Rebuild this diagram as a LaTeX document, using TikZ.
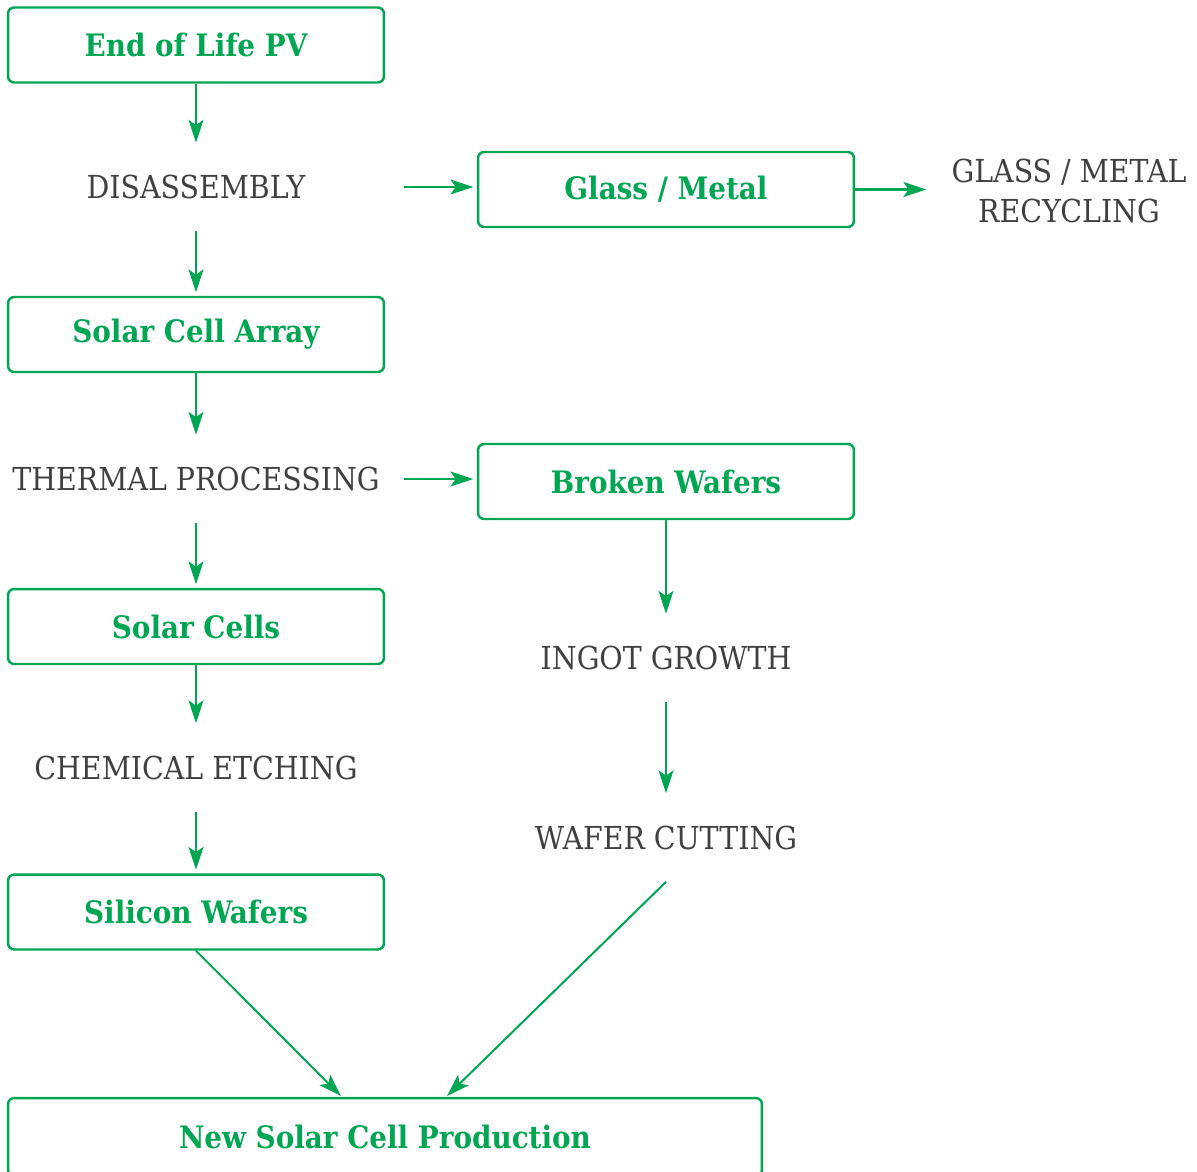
\documentclass[tikz,border=0pt]{standalone}
\usepackage{fontspec}
\setmainfont{DejaVu Serif Condensed}
\usetikzlibrary{arrows.meta, positioning}
\definecolor{pvgreen}{HTML}{00A651}
\definecolor{pvgray}{HTML}{404040}

\begin{document}
\begin{tikzpicture}[
  x=0.02cm, y=-0.02cm,
  stage/.style={rectangle, draw=pvgreen, line width=1.4pt, rounded corners=3.5pt, minimum width=7.52cm, minimum height=1.5cm, font=\fontsize{17.6}{21}\selectfont\bfseries, text=pvgreen, align=center},
  process/.style={font=\fontsize{18}{22.7}\selectfont, text=pvgray, minimum width=8.32cm, minimum height=1.76cm, inner sep=0pt, align=center},
  flow/.style={draw=pvgreen, line width=1.15pt, -{Stealth[length=13pt, width=8.5pt, inset=3pt]}},
]
  \useasboundingbox (0,0) rectangle (1197,1171);

  % left column
  \node[stage] (eol) at (196,45) {End of Life PV};
  \node[process] (dis) at (196,187) {DISASSEMBLY};
  \node[stage] (sca) at (196,334.5) {Solar Cell Array};
  \node[process] (thp) at (196,479) {THERMAL PROCESSING};
  \node[stage] (sc) at (196,626.5) {Solar Cells};
  \node[process] (che) at (196,767.5) {CHEMICAL ETCHING};
  \node[stage] (sw) at (196,912) {Silicon Wafers};

  % right column
  \node[stage] (gm) at (666,189.5) {Glass / Metal};
  \node[process, minimum width=0pt, inner xsep=0.5cm] (rec) at (1069,191) {GLASS / METAL\\RECYCLING};
  \node[stage] (bw) at (666,481.5) {Broken Wafers};
  \node[process] (ing) at (666,658) {INGOT GROWTH};
  \node[process] (wc) at (666,837.5) {WAFER CUTTING};

  \node[stage, minimum width=15.08cm, minimum height=1.56cm] (nsp) at (385,1137) {New Solar Cell Production};
  \coordinate (nspL) at (341,1096);
  \coordinate (nspR) at (447,1096);

  \draw[flow] (eol) -- (dis);
  \draw[flow, shorten >=2pt] (dis) -- (sca);
  \draw[flow] (sca) -- (thp);
  \draw[flow, shorten >=2pt] (thp) -- (sc);
  \draw[flow] (sc) -- (che);
  \draw[flow, shorten >=2pt] (che) -- (sw);

  \draw[flow, shorten >=2pt] (dis.east) -- (dis.east -| gm.west);
  \draw[flow] (gm.east) -- (gm.east -| rec.west);
  \draw[flow, shorten >=2pt] (thp.east) -- (thp.east -| bw.west);
  \draw[flow] (bw) -- (ing);
  \draw[flow] (ing) -- (wc);

  \draw[flow] (sw.south) -- (nspL);
  \draw[flow] (wc.south) -- (nspR);
\end{tikzpicture}
\end{document}
